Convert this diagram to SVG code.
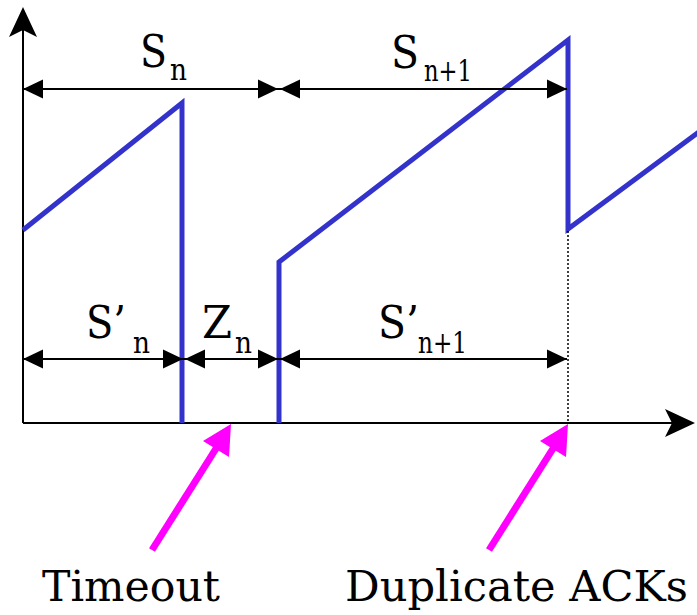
<svg xmlns="http://www.w3.org/2000/svg" width="697" height="615" viewBox="0 0 697 615">
<style>
.ax{stroke:#000;stroke-width:2;fill:none}
.dim{stroke:#000;stroke-width:1.8;fill:none}
.ah{fill:#000;stroke:none}
.saw{stroke:#3333cc;stroke-width:5;fill:none;stroke-linejoin:miter;stroke-linecap:butt}
.mg{stroke:#ff00ff;stroke-width:7;fill:none}
.mgh{fill:#ff00ff;stroke:none}
text{font-family:'DejaVu Serif','Liberation Serif',serif;fill:#000}
.big{font-size:44px}
.sub{font-size:29px}
.lab{font-size:43.5px}
</style>
<defs>
<polygon id="ahR" points="0,0 -20,-9.5 -20,9.5"/>
<polygon id="ahL" points="0,0 20,-9.5 20,9.5"/>
</defs>
<g id="axes">
<line class="ax" x1="23" y1="423" x2="23" y2="20"/>
<polygon class="ah" points="23,7 9,37 23,30 37,37"/>
<line class="ax" x1="23" y1="423" x2="680" y2="423"/>
<polygon class="ah" points="695,423 665,409 672,423 665,437"/>
</g>
<g id="sawtooth">
<polyline class="saw" points="23,230 182,103 182,423"/>
<polyline class="saw" points="279,423 279,262 568,40 568,229 699,132"/>
<line x1="568" y1="231" x2="568" y2="423" stroke="#000" stroke-width="1.5" stroke-dasharray="2,2"/>
</g>
<g id="connectors">
<line class="dim" x1="23" y1="89" x2="279" y2="89"/>
<line class="dim" x1="279" y1="89" x2="567" y2="89"/>
<line class="dim" x1="23" y1="359" x2="567" y2="359"/>
<use href="#ahL" class="ah" x="23" y="89"/>
<use href="#ahR" class="ah" x="278" y="89"/>
<use href="#ahL" class="ah" x="280" y="89"/>
<use href="#ahR" class="ah" x="567" y="89"/>
<use href="#ahL" class="ah" x="23" y="359"/>
<use href="#ahR" class="ah" x="183" y="359"/>
<use href="#ahL" class="ah" x="185" y="359"/>
<use href="#ahR" class="ah" x="278" y="359"/>
<use href="#ahL" class="ah" x="280" y="359"/>
<use href="#ahR" class="ah" x="567" y="359"/>
</g>
<g id="timeout-arrow">
<line class="mg" x1="152" y1="550" x2="217" y2="447"/>
<polygon class="mgh" points="231,424 203,441 229,457"/>
</g>
<g id="dupack-arrow">
<line class="mg" x1="489" y1="550" x2="554" y2="447"/>
<polygon class="mgh" points="568,424 540,441 566,457"/>
</g>
<g id="label-Sn"><text class="big" x="140" y="67" textLength="27" lengthAdjust="spacingAndGlyphs">S</text><text class="sub" x="170" y="80" textLength="17" lengthAdjust="spacingAndGlyphs">n</text></g>
<g id="label-Sn1"><text class="big" x="391" y="68" textLength="28" lengthAdjust="spacingAndGlyphs">S</text><text class="sub" x="424" y="81" textLength="48" lengthAdjust="spacingAndGlyphs">n+1</text></g>
<g id="label-Spn"><text class="big" x="86" y="338" textLength="40" lengthAdjust="spacingAndGlyphs">S’</text><text class="sub" x="133" y="353" textLength="17" lengthAdjust="spacingAndGlyphs">n</text></g>
<g id="label-Zn"><text class="big" x="202" y="338" textLength="30" lengthAdjust="spacingAndGlyphs">Z</text><text class="sub" x="235" y="353" textLength="17" lengthAdjust="spacingAndGlyphs">n</text></g>
<g id="label-Spn1"><text class="big" x="378" y="338" textLength="41" lengthAdjust="spacingAndGlyphs">S’</text><text class="sub" x="418" y="353" textLength="49" lengthAdjust="spacingAndGlyphs">n+1</text></g>
<g id="label-timeout"><text class="lab" x="42" y="601" textLength="178" lengthAdjust="spacingAndGlyphs">Timeout</text></g>
<g id="label-dupack"><text class="lab" x="345" y="601" textLength="343" lengthAdjust="spacingAndGlyphs">Duplicate ACKs</text></g>
</svg>
